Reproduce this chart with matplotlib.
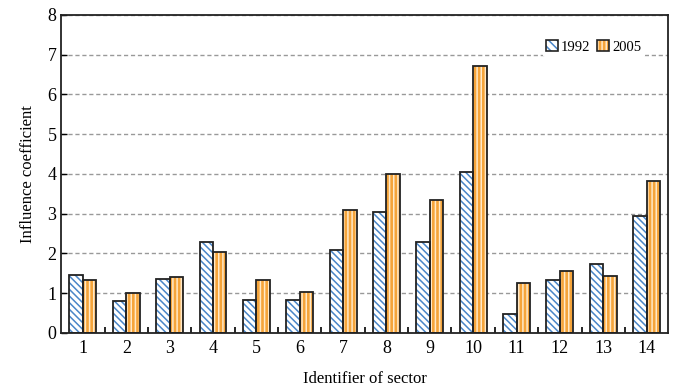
import matplotlib.pyplot as plt
from matplotlib.patches import Patch
from matplotlib.legend_handler import HandlerTuple
import numpy as np

plt.rcParams['font.family'] = ['Liberation Serif', 'DejaVu Serif']
plt.rcParams['hatch.linewidth'] = 1.1

sectors = list(range(1, 15))
v1992 = [1.46, 0.80, 1.36, 2.29, 0.83, 0.83, 2.08, 3.03, 2.28, 4.05, 0.47, 1.33, 1.72, 2.93]
v2005 = [1.33, 1.00, 1.40, 2.03, 1.33, 1.03, 3.10, 4.00, 3.33, 6.70, 1.25, 1.55, 1.42, 3.82]

blue = '#4A86C8'
orange = '#F5A43A'
w = 0.31

fig = plt.figure(figsize=(6.73, 3.88), dpi=100)
ax = fig.add_axes([0.091, 0.142, 0.902, 0.820])

x = np.array(sectors)
ax.set_axisbelow(True)
ax.grid(axis='y', linestyle='--', color='#999999', linewidth=1.0, dashes=(3, 2))

# hatched fills
ax.bar(x - w / 2, v1992, w, facecolor='white', edgecolor=blue, hatch='\\\\\\\\\\', linewidth=0)
ax.bar(x + w / 2, v2005, w, facecolor=orange, edgecolor='#FFE9C8', hatch='||||', linewidth=0)
# outlines
ax.bar(x - w / 2, v1992, w, fill=False, edgecolor='#222222', linewidth=1.3)
ax.bar(x + w / 2, v2005, w, fill=False, edgecolor='#222222', linewidth=1.3)

ax.set_xlim(0.5, 14.5)
ax.set_ylim(0, 8)
ax.set_xticks(sectors)
ax.set_xticks(np.arange(1.5, 14, 1), minor=True)
ax.tick_params(axis='x', which='major', length=0, labelsize=13, pad=5)
ax.tick_params(axis='x', which='minor', direction='in', length=4, width=1.2)
ax.tick_params(axis='y', direction='in', length=4, width=1.0, labelsize=13)
for s in ax.spines.values():
    s.set_linewidth(1.3)
    s.set_color('#222222')

ax.set_xlabel('Identifier of sector', fontsize=12, labelpad=10)
ax.set_ylabel('Influence coefficient', fontsize=12, labelpad=8)

outline = dict(fill=False, edgecolor='#222222', linewidth=1.2)
h1 = (Patch(facecolor='white', edgecolor=blue, hatch='\\\\\\\\', linewidth=0), Patch(**outline))
h2 = (Patch(facecolor=orange, edgecolor='#FFE9C8', hatch='||||', linewidth=0), Patch(**outline))
leg = ax.legend([h1, h2], ['1992', '2005'], handler_map={tuple: HandlerTuple(ndivide=1, pad=0)},
                loc='upper right', bbox_to_anchor=(0.96, 0.93),
                frameon=True, framealpha=1, edgecolor='white', fontsize=10.5,
                handlelength=0.8, handleheight=0.8, handletextpad=0.2,
                columnspacing=0.5, ncol=2, borderpad=0.2, borderaxespad=0)

fig.savefig('out.png', dpi=100)
